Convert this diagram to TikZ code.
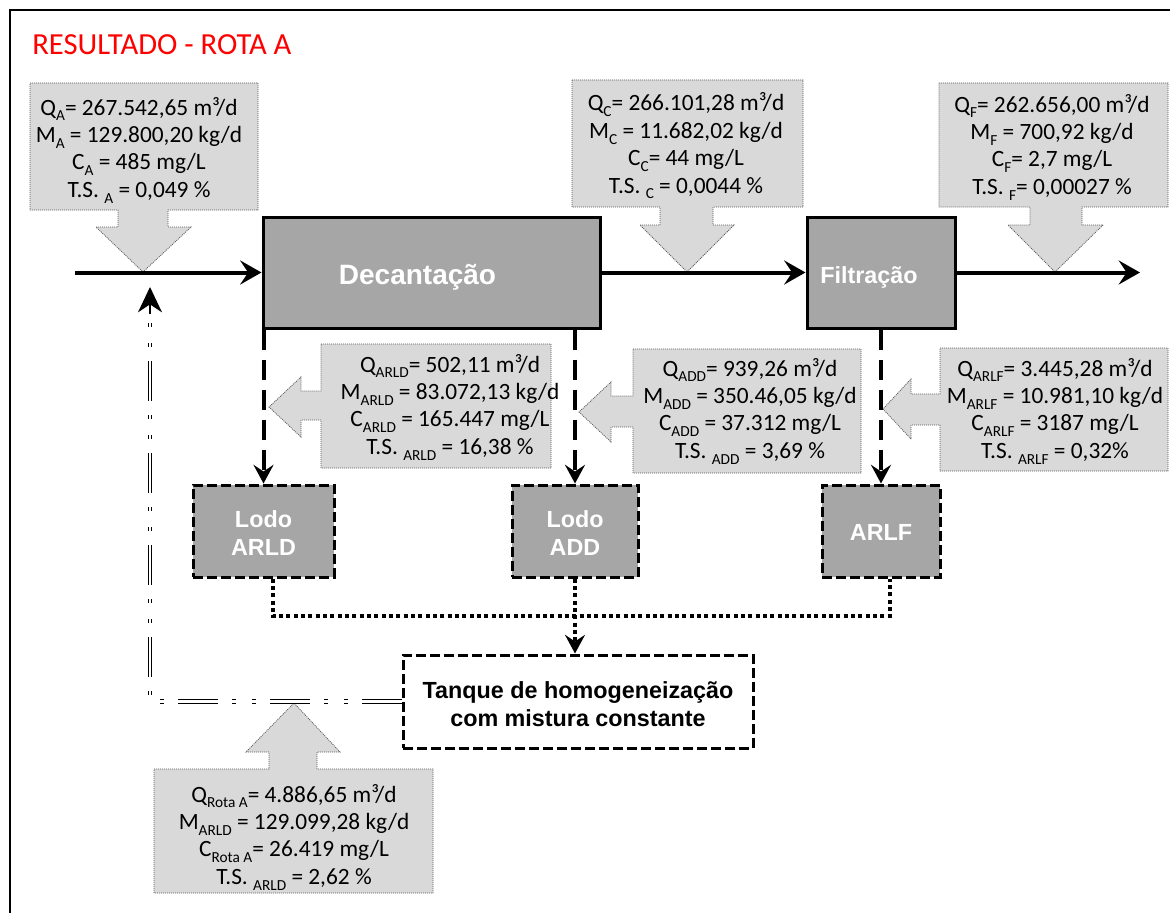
\documentclass[tikz,border=0pt]{standalone}
\usepackage{fontspec}
\setmainfont{Carlito}
\newfontfamily\labelfont{Liberation Sans}
\usetikzlibrary{arrows.meta,fit,calc}
\definecolor{procgray}{RGB}{166,166,166}
\definecolor{notegray}{RGB}{217,217,217}
\definecolor{noteedge}{RGB}{90,90,90}
\definecolor{titlered}{RGB}{255,0,0}
% lowered index as used in the flow data
\newcommand\lowidx[1]{\raisebox{-0.24em}{\fontsize{11.5pt}{12pt}\selectfont #1}}

\begin{document}
\begin{tikzpicture}[x=0.75pt,y=-0.75pt,
  procbox/.style={draw, line width=2.25pt, fill=procgray, inner sep=0pt},
  sludgebox/.style={procbox, dash pattern=on 7.5pt off 3pt},
  tankbox/.style={draw, line width=2.25pt, dash pattern=on 7.5pt off 3pt, fill=white, inner sep=0pt},
  unitlabel/.style={inner sep=0pt, align=center, text=white,
    font=\labelfont\bfseries\fontsize{17.5pt}{21.5pt}\selectfont},
  tanklabel/.style={inner sep=0pt, align=center,
    font=\labelfont\bfseries\fontsize{17.5pt}{21pt}\selectfont},
  note/.style={fill=notegray, draw=noteedge, line width=0.6pt, dash pattern=on 0.75pt off 0.75pt},
  notetext/.style={align=center, font=\fontsize{17.5pt}{20.6pt}\selectfont, inner sep=0pt},
  flow/.style={line width=3pt, -{Stealth[length=16pt,width=18pt,inset=6pt]}},
  drop/.style={line width=3pt, dash pattern=on 15pt off 7.5pt, -{Stealth[length=14pt,width=15pt,inset=5pt]}},
  merge/.style={line width=3pt, dash pattern=on 3pt off 2.5pt},
  recycle/.style={double, line width=0.9pt, double distance=1.8pt,
    dash pattern=on 30pt off 10.5pt on 3pt off 12pt on 3pt off 10.5pt}
]
\useasboundingbox (0,0) rectangle (1170,913);
\clip (0,0) rectangle (1170,913);

% frame
\draw[line width=1.5pt] (10,930) -- (10,10) -- (1190,10);

% title
\node[anchor=west, text=titlered, font=\fontsize{23pt}{27pt}\selectfont, inner sep=0pt]
  (title) at (32,45) {RESULTADO - ROTA A};

% data callouts (shapes)
\draw[note] (30,83) -- (258,83) -- (258,210) -- (168,210) -- (168,227) -- (191,227)
  -- (143,272) -- (96,227) -- (118,227) -- (118,210) -- (30,210) -- cycle;
\draw[note] (572,80) -- (803,80) -- (803,207) -- (713,207) -- (713,225) -- (734,225)
  -- (687,272) -- (640,225) -- (660,225) -- (660,207) -- (572,207) -- cycle;
\draw[note] (939,83) -- (1168,83) -- (1168,207) -- (1082,207) -- (1082,225) -- (1103,225)
  -- (1055,272) -- (1008,225) -- (1030,225) -- (1030,207) -- (939,207) -- cycle;
\draw[note] (321,344) -- (551,344) -- (551,468) -- (321,468) -- (321,420) -- (301,420)
  -- (301,437) -- (269,407) -- (301,377) -- (301,391) -- (321,391) -- cycle;
\draw[note] (633,349) -- (861,349) -- (861,473) -- (633,473) -- (633,427) -- (611,427)
  -- (611,442) -- (579,412) -- (611,382) -- (611,396) -- (633,396) -- cycle;
\draw[note] (940,348) -- (1168,348) -- (1168,471) -- (940,471) -- (940,425) -- (911,425)
  -- (911,439) -- (883,409) -- (911,379) -- (911,394) -- (940,394) -- cycle;
\draw[note] (154,769) -- (269,769) -- (269,752) -- (246,752) -- (294,703) -- (340,752)
  -- (317,752) -- (317,769) -- (433,769) -- (433,893) -- (154,893) -- cycle;

% callout texts
\node[notetext] (dA) at (139,150) {Q\lowidx{A}= 267.542,65 m³/d\\ M\lowidx{A} = 129.800,20 kg/d\\
  C\lowidx{A} = 485 mg/L\\ T.S. \lowidx{A} = 0,049 \%};
\node[notetext] (dC) at (686,146) {Q\lowidx{C}= 266.101,28 m³/d\\ M\lowidx{C} = 11.682,02 kg/d\\
  C\lowidx{C}= 44 mg/L\\ T.S. \lowidx{C} = 0,0044 \%};
\node[notetext] (dF) at (1052,147) {Q\lowidx{F}= 262.656,00 m³/d\\ M\lowidx{F} = 700,92 kg/d\\
  C\lowidx{F}= 2,7 mg/L\\ T.S. \lowidx{F}= 0,00027 \%};
\node[notetext] (dARLD) at (450,407) {Q\lowidx{ARLD}= 502,11 m³/d\\ M\lowidx{ARLD} = 83.072,13 kg/d\\
  C\lowidx{ARLD} = 165.447 mg/L\\ T.S. \lowidx{ARLD} = 16,38 \%};
\node[notetext] (dADD) at (750,411) {Q\lowidx{ADD}= 939,26 m³/d\\ M\lowidx{ADD} = 350.46,05 kg/d\\
  C\lowidx{ADD} = 37.312 mg/L\\ T.S. \lowidx{ADD} = 3,69 \%};
\node[notetext] (dARLF) at (1055,411) {Q\lowidx{ARLF}= 3.445,28 m³/d\\ M\lowidx{ARLF} = 10.981,10 kg/d\\
  C\lowidx{ARLF} = 3187 mg/L\\ T.S. \lowidx{ARLF} = 0,32\%};
\node[notetext] (dRota) at (294,837) {Q\lowidx{Rota A}= 4.886,65 m³/d\\ M\lowidx{ARLD} = 129.099,28 kg/d\\
  C\lowidx{Rota A}= 26.419 mg/L\\ T.S. \lowidx{ARLD} = 2,62 \%};

% process units
\node[procbox, fit={(263,217) (600,328)}] (dec) {};
\node[procbox, fit={(807,217) (955,328)}] (fil) {};
\node[sludgebox, fit={(193,485) (334,577)}] (arld) {};
\node[sludgebox, fit={(512,485) (638,577)}] (add) {};
\node[sludgebox, fit={(822,485) (940,577)}] (arlf) {};
\node[tankbox, fit={(403,655) (753,748)}] (tank) {};

\node[unitlabel, font=\labelfont\bfseries\fontsize{21pt}{25pt}\selectfont]
  (decl) at ($(dec.center)+(-14,5)$) {Decantação};
\node[unitlabel] (fill) at ($(fil.center)+(-12,5)$) {Filtração};
\node[unitlabel] (arldl) at ($(arld.center)+(0,2)$) {Lodo\\ARLD};
\node[unitlabel] (addl) at ($(add.center)+(0,2)$) {Lodo\\ADD};
\node[unitlabel] (arlfl) at ($(arlf.center)+(0,1)$) {ARLF};
\node[tanklabel] (tankl) at ($(tank.center)+(0,3)$) {Tanque de homogeneização\\com mistura constante};

% main stream
\coordinate (inlet) at (75,272.5);
\coordinate (outlet) at (1140,272.5);
\draw[flow] (inlet) -- (dec.west);
\draw[flow] (dec.east) -- (fil.west);
\draw[flow] (fil.east) -- (outlet);

% sludge and wash water withdrawals
\draw[drop] (dec.south -| arld.north) -- (arld.north);
\draw[drop] (dec.south -| add.north) -- (add.north);
\draw[drop] (fil.south -| arlf.north) -- (arlf.north);

% collection to the homogenisation tank
\coordinate (arldout) at ($(arld.south)+(9,0)$);
\coordinate (arlfout) at ($(arlf.south)+(9,0)$);
\coordinate (mj) at (577,616);
\draw[merge] (arldout) |- (mj) -| (arlfout);
\draw[merge, -{Stealth[length=14pt,width=15pt,inset=5pt]}] (add.south) -- (add.south |- tank.north);

% recirculation to the inlet
\coordinate (retbase) at (150,314);
\coordinate (rettip) at (150,287);
\draw[recycle] (tank.west) -| (retbase);
\draw[line width=0.9pt, -{Stealth[length=19pt,width=18pt,inset=6pt]}] (retbase) -- (rettip);
\end{tikzpicture}
\end{document}
